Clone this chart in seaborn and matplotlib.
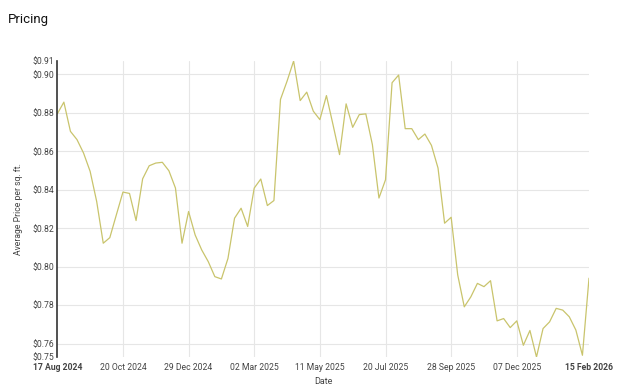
import numpy as np
import pandas as pd
import seaborn as sns
import matplotlib
matplotlib.use("Agg")
import matplotlib.pyplot as plt
from matplotlib.ticker import FixedLocator

# ---- data ----
prices = [
    0.8795, 0.8856, 0.8704, 0.8661, 0.8591, 0.8496, 0.8339, 0.8122, 0.8151, 0.8270,
    0.8388, 0.8381, 0.8240, 0.8457, 0.8525, 0.8539, 0.8543, 0.8499, 0.8409, 0.8122,
    0.8287, 0.8165, 0.8087, 0.8026, 0.7948, 0.7936, 0.8043, 0.8252, 0.8304, 0.8209,
    0.8409, 0.8456, 0.8318, 0.8344, 0.8870, 0.8965, 0.9070, 0.8864, 0.8908, 0.8809,
    0.8765, 0.8890, 0.8739, 0.8583, 0.8847, 0.8725, 0.8791, 0.8795, 0.8635, 0.8357,
    0.8452, 0.8957, 0.8997, 0.8718, 0.8718, 0.8661, 0.8690, 0.8631, 0.8513, 0.8226,
    0.8257, 0.7957, 0.7791, 0.7843, 0.7913, 0.7896, 0.7927, 0.7718, 0.7730, 0.7683,
    0.7718, 0.7591, 0.7668, 0.7530, 0.7678, 0.7713, 0.7783, 0.7774, 0.7739, 0.7670,
    0.7539, 0.7940,
]
week_index = list(range(len(prices)))
date_tick_pos = [10, 20, 30, 40, 50, 60, 70]
date_tick_labels = ["20 Oct 2024", "29 Dec 2024", "02 Mar 2025", "11 May 2025",
                    "20 Jul 2025", "28 Sep 2025", "07 Dec 2025"]
date_end_labels = ["17 Aug 2024", "15 Feb 2026"]
price_ticks = [0.76, 0.78, 0.80, 0.82, 0.84, 0.86, 0.88, 0.90]

df = pd.DataFrame({"week": week_index, "price": prices})

sns.set_style("white")
plt.rcParams["font.family"] = ["Roboto", "DejaVu Sans"]

fig = plt.figure(figsize=(6.24, 3.92), dpi=100)
ax = fig.add_axes([57.3 / 624, 1 - 357 / 392, (589 - 57.3) / 624, (357 - 61) / 392])

sns.lineplot(data=df, x="week", y="price", ax=ax, color="#c9c46c", linewidth=0.9)

ymin, ymax = min(prices), max(prices)
ax.set_xlim(week_index[0], week_index[-1])
ax.set_ylim(ymin, ymax)

# major ticks with grid
ax.set_xticks(date_tick_pos, date_tick_labels)
ax.set_yticks(price_ticks, [f"${v:.2f}" for v in price_ticks])
# end labels as minor ticks (no grid)
ax.xaxis.set_minor_locator(FixedLocator([week_index[0], week_index[-1]]))
ax.set_xticks([week_index[0], week_index[-1]], date_end_labels, minor=True)
ax.yaxis.set_minor_locator(FixedLocator([ymin, ymax]))
ax.set_yticks([ymin, ymax], [f"${ymin:.2f}", f"${ymax:.2f}"], minor=True)
for lab in ax.get_xticklabels(minor=True):
    lab.set_fontweight("bold")
    lab.set_color("#333333")

ax.tick_params(axis="both", which="both", length=0, labelsize=6.2, colors="#444444")
ax.tick_params(axis="x", which="both", pad=4)
ax.tick_params(axis="y", which="both", pad=2)

ax.grid(True, which="major", color="#e6e6e6", linewidth=0.8)
ax.grid(False, which="minor")
for s in ["top", "right", "bottom"]:
    ax.spines[s].set_visible(False)
ax.spines["left"].set_color("#333333")
ax.spines["left"].set_linewidth(1.2)

ax.set_xlabel("Date", fontsize=6.5, color="#444444", labelpad=4)
ax.set_ylabel("Average Price per sq. ft.", fontsize=6.2, color="#444444", labelpad=7)

fig.text(8 / 624, 1 - 19 / 392, "Pricing", fontsize=9.5, color="#111111",
         ha="left", va="center")

fig.savefig("out.png", dpi=100)
